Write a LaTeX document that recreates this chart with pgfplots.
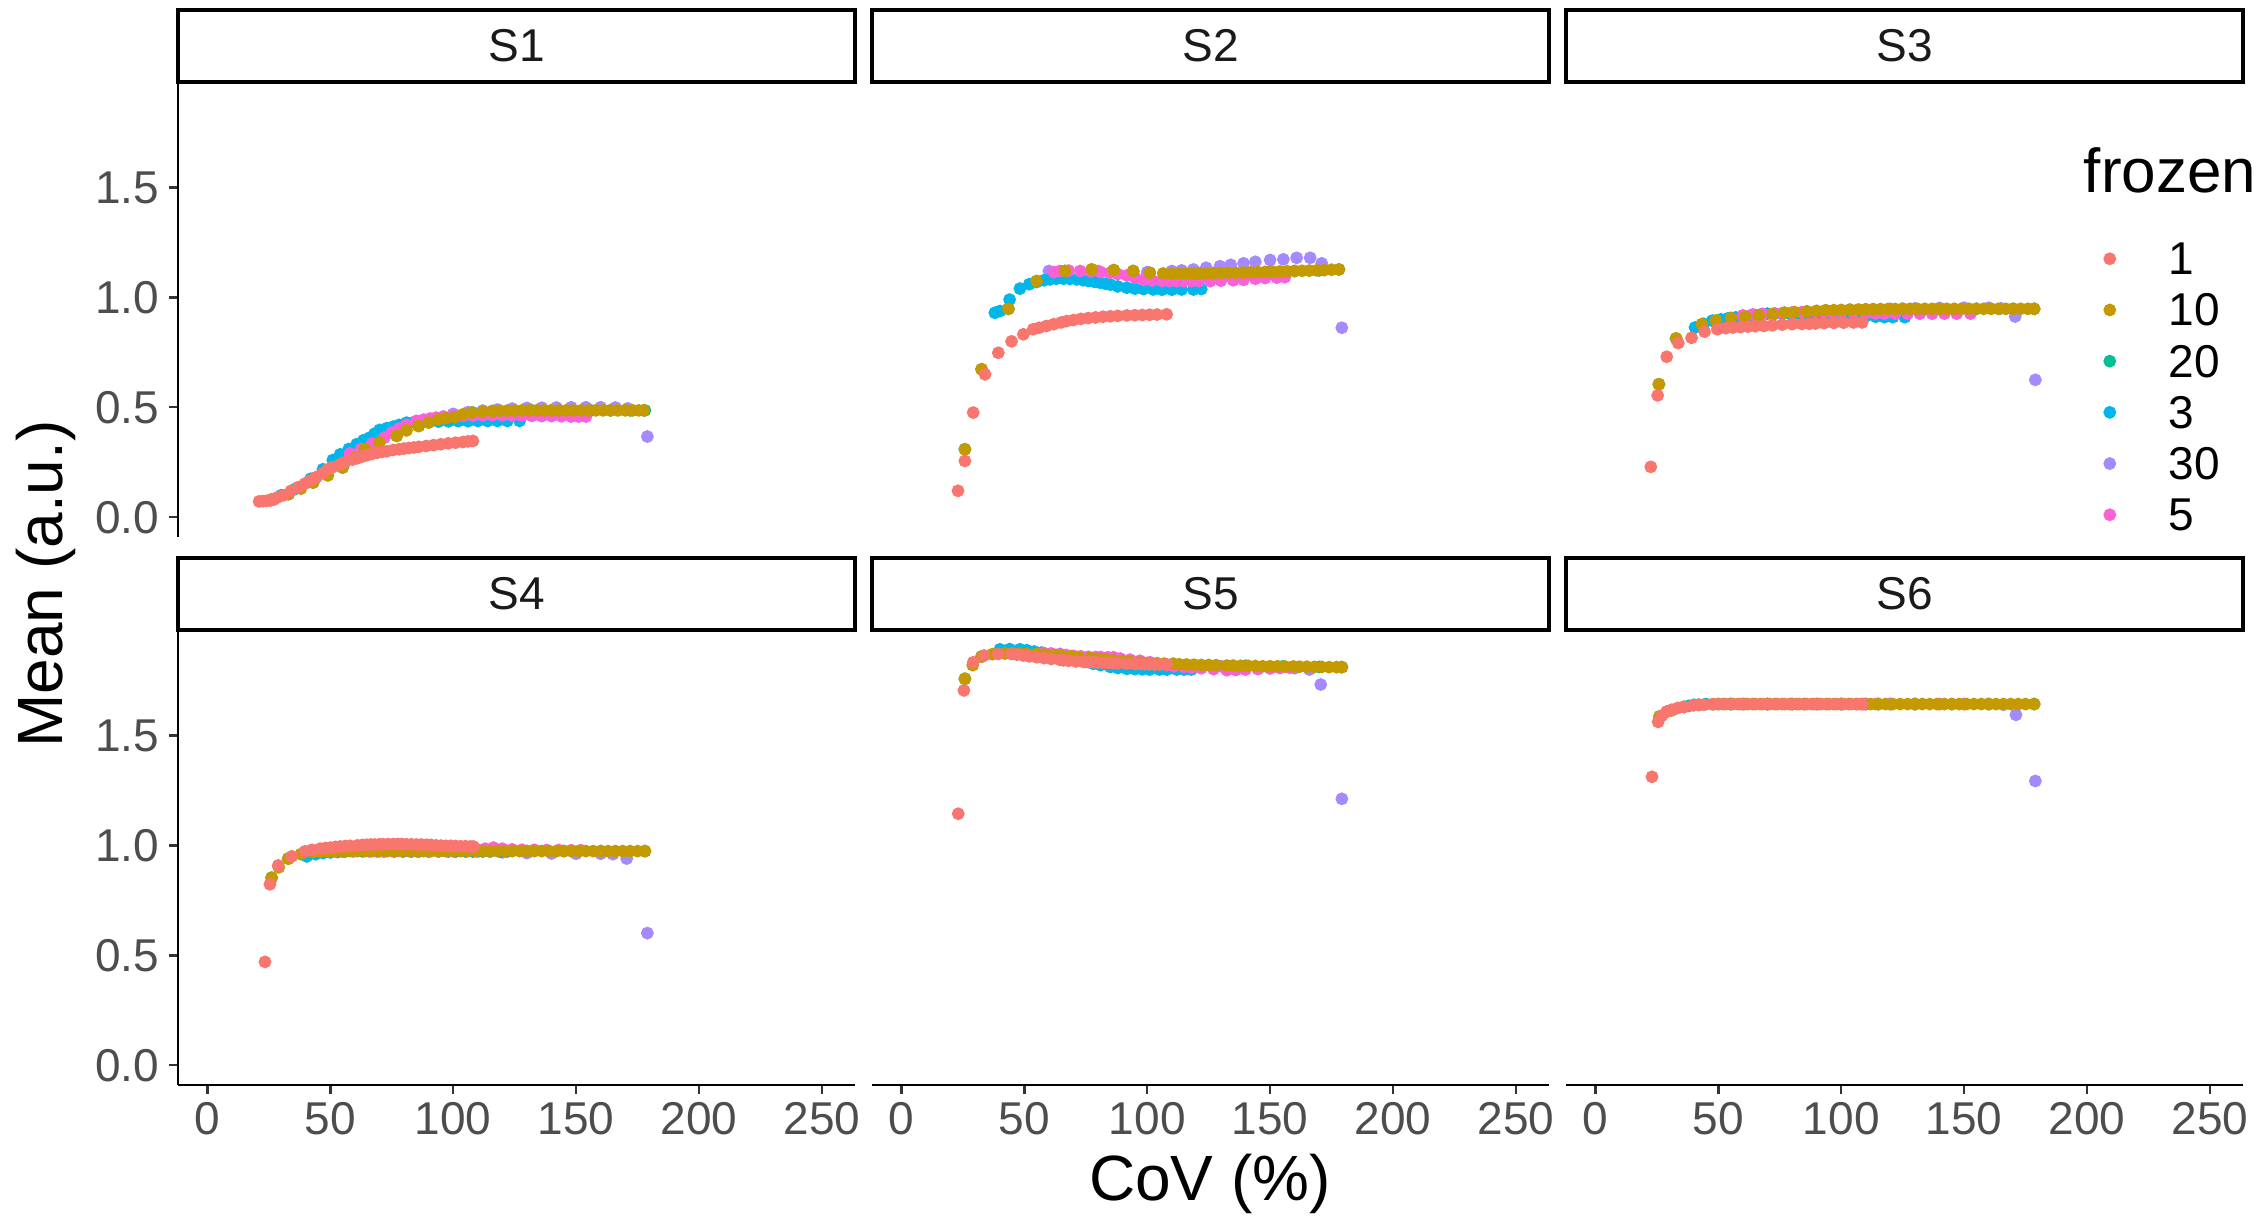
\documentclass[border=0pt]{standalone}
\usepackage{fontspec}
\setmainfont{Liberation Sans}
\usepackage{pgfplots}
\pgfplotsset{compat=1.18}
\definecolor{c1}{HTML}{F8766D}
\definecolor{c10}{HTML}{C49A00}
\definecolor{c20}{HTML}{00C094}
\definecolor{c3}{HTML}{00B6EB}
\definecolor{c30}{HTML}{A58AFF}
\definecolor{c5}{HTML}{FB61D7}
\definecolor{tickgray}{HTML}{4D4D4D}
\definecolor{striptext}{HTML}{1A1A1A}
\pgfplotsset{
  panel/.style={
    scale only axis, width=169.25pt, height=113.75pt, anchor=north west,
    xmin=-12, xmax=263.5, ymin=-0.09, ymax=1.98,
    axis x line=bottom, axis y line=left,
    axis line style={-, line width=0.6pt, black},
    tick style={line width=0.6pt, color=black!80},
    tick align=outside, major tick length=2.2pt,
    xtick={0,50,100,150,200,250}, xticklabels={0,50,100,150,200,250},
    ytick={0,0.5,1,1.5}, yticklabels={0.0,0.5,1.0,1.5},
    ticklabel style={font=\fontsize{11.5}{12}\selectfont, color=tickgray},
    yticklabel style={inner xsep=2.3pt},
    xticklabel style={inner ysep=2pt},
    every axis plot/.append style={only marks, mark=*, mark size=1.4pt},
  },
  toprow/.style={x axis line style={draw=none}, xtick=\empty},
  inner/.style={y axis line style={draw=none}, ytick=\empty},
}
\begin{document}
\begin{tikzpicture}
\useasboundingbox (0,0) rectangle (566pt,-304pt);
% ---------------- S1 ----------------
\begin{axis}[panel, toprow, at={(44.5pt,-20.5pt)}]
\addplot[color=c20] coordinates {(26,0.08)(33,0.105)(43,0.158)(55,0.226)(64,0.31)(77,0.37)(86,0.415)(94,0.445)(101,0.455)(108,0.476)(116,0.483)(124,0.485)(132,0.486)(140,0.486)(148,0.486)(156,0.486)(164,0.486)(172,0.486)(178,0.486)};
\addplot[color=c30] coordinates {(100,0.47)(106,0.478)(112,0.485)(118,0.49)(124,0.494)(130,0.497)(136,0.498)(142,0.499)(148,0.5)(154,0.5)(160,0.5)(166,0.499)(171,0.495)(179,0.367)};
\addplot[color=c3] coordinates {(30,0.1)(36,0.13)(42,0.175)(47,0.218)(51,0.26)(54,0.286)(57.5,0.31)(60.7,0.332)(63.5,0.35)(66,0.362)(68,0.38)(70,0.397)(73,0.405)(75.6,0.412)(78,0.42)(81,0.43)(84,0.432)(87,0.433)(90,0.434)(94,0.435)(98,0.436)(102,0.437)(106,0.437)(110,0.438)(114,0.438)(118,0.438)(122,0.438)(127,0.438)};
\addplot[color=c5] coordinates {(58,0.29)(62.5,0.31)(67,0.335)(72,0.362)(75,0.385)(78,0.403)(81,0.42)(85,0.438)(88,0.444)(90.6,0.449)(93,0.453)(96,0.458)(100,0.46)(104,0.461)(108,0.462)(112,0.463)(116,0.464)(120,0.464)(124,0.463)(128,0.462)(132,0.461)(136,0.46)(140,0.46)(144,0.459)(148,0.458)(151,0.458)(154,0.458)};
\addplot[color=c10] coordinates {(26,0.08)(33,0.105)(38,0.13)(43,0.158)(49,0.19)(55,0.226)(60,0.27)(64,0.31)(70,0.34)(77,0.37)(81,0.395)(85.8,0.415)(90,0.43)(94,0.445)(97,0.45)(100.7,0.455)(104,0.468)(107.5,0.476)(112,0.48)(116,0.483)(119,0.484)(122,0.485)(125,0.485)(128,0.486)(131,0.486)(134,0.486)(137,0.486)(140,0.486)(143,0.486)(146,0.486)(149,0.486)(152,0.486)(155,0.486)(158,0.486)(161,0.486)(164,0.486)(167,0.486)(170,0.486)(173,0.486)(175.5,0.486)(177.5,0.486)};
\addplot[color=c1] coordinates {(21,0.072)(22.5,0.073)(24,0.074)(25.5,0.076)(27,0.08)(28.5,0.09)(31,0.1)(34,0.12)(37,0.137)(39.7,0.153)(42,0.168)(44.4,0.183)(47,0.2)(49,0.218)(51,0.228)(53.9,0.241)(56,0.25)(59,0.262)(61,0.268)(63,0.276)(65,0.282)(67,0.288)(69,0.293)(71,0.297)(73,0.3)(75.6,0.306)(78,0.309)(80,0.312)(82,0.315)(84,0.317)(86,0.32)(89,0.324)(92,0.328)(95,0.332)(98,0.336)(101,0.339)(104,0.342)(106,0.345)(108,0.347)};
\end{axis}
% ---------------- S2 ----------------
\begin{axis}[panel, toprow, inner, at={(218pt,-20.5pt)}]
\addplot[color=c20] coordinates {(25.8,0.309)(32.6,0.673)(43.5,0.948)(55,1.074)(66.5,1.12)(77.4,1.127)(86.4,1.124)(94.3,1.12)(101,1.112)(110,1.108)(120,1.108)(130,1.111)(140,1.113)(150,1.117)(160,1.12)(170,1.123)(178,1.127)};
\addplot[color=c30] coordinates {(60,1.12)(80,1.12)(100,1.115)(110,1.12)(114,1.123)(118.8,1.127)(124,1.135)(129.6,1.142)(134,1.148)(139.2,1.155)(144,1.162)(150,1.17)(155.4,1.173)(160.8,1.18)(166.3,1.18)(171,1.155)(179.2,0.862)};
\addplot[color=c3] coordinates {(38,0.93)(40.1,0.938)(44,0.99)(48.2,1.04)(52,1.06)(55,1.07)(58,1.078)(60.4,1.082)(63,1.085)(66,1.085)(68.5,1.084)(71.3,1.082)(74,1.078)(76,1.075)(78.5,1.071)(80.8,1.067)(83,1.062)(85,1.058)(88,1.05)(91.7,1.044)(95,1.04)(98.5,1.038)(102.5,1.036)(106,1.035)(110,1.035)(114,1.036)(118.8,1.036)(122,1.038)};
\addplot[color=c5] coordinates {(62,1.115)(64.5,1.12)(68,1.122)(72.7,1.12)(77,1.118)(81,1.115)(84.9,1.112)(88,1.106)(91.7,1.1)(95,1.09)(98.5,1.08)(102,1.077)(106,1.075)(109,1.074)(112,1.074)(115,1.074)(118,1.074)(121,1.074)(125.6,1.074)(130,1.076)(135,1.078)(139.2,1.08)(144,1.085)(148,1.088)(152.7,1.09)(156,1.092)};
\addplot[color=c10] coordinates {(25.8,0.309)(32.6,0.673)(43.5,0.948)(55,1.074)(66.5,1.12)(77.4,1.127)(86.4,1.124)(94.3,1.12)(101,1.112)(106.5,1.109)(110,1.108)(113,1.108)(116,1.108)(118.8,1.108)(121,1.109)(124,1.109)(127,1.11)(130,1.111)(133,1.112)(136,1.112)(139,1.113)(142,1.114)(145,1.115)(148,1.116)(151,1.117)(154,1.118)(157,1.119)(160,1.12)(163,1.121)(166,1.122)(169,1.123)(172,1.124)(175,1.126)(178,1.127)};
\addplot[color=c1] coordinates {(23,0.12)(25.8,0.256)(29.2,0.476)(34,0.65)(39.4,0.748)(44.8,0.8)(49.6,0.832)(53.6,0.855)(56,0.862)(59,0.87)(62,0.878)(65,0.886)(67.2,0.892)(70,0.897)(73,0.902)(76,0.906)(79,0.909)(82,0.912)(85,0.914)(88,0.916)(91.7,0.918)(95,0.919)(98,0.92)(101,0.921)(104,0.922)(107.9,0.923)};
\end{axis}
% ---------------- S3 ----------------
\begin{axis}[panel, toprow, inner, at={(391.5pt,-20.5pt)},
  legend style={at={(axis description cs:0.7725,0.6484)}, anchor=north west, draw=none, fill=none, inner sep=0pt,
    font=\fontsize{11.5}{12}\selectfont, row sep=4.8pt, column sep=9.75pt,
    nodes={inner sep=0pt, text height=8pt, text depth=0pt}, cells={anchor=west}},
  legend cell align=left,
  legend image code/.code={\draw[#1] plot coordinates {(0pt,0pt)}; \path[draw=none, fill=none] (-5pt,-4pt) rectangle (5pt,4pt);}]
\addplot[color=c20, forget plot] coordinates {(25.8,0.605)(32.8,0.813)(43.3,0.878)(55.2,0.906)(66.4,0.917)(76.9,0.93)(86,0.936)(93.7,0.941)(103.5,0.944)(113,0.946)(125,0.948)(140,0.948)(155,0.948)(170,0.948)(178.5,0.948)};
\addplot[color=c30, forget plot] coordinates {(110,0.945)(120,0.948)(130,0.95)(140,0.952)(150,0.953)(160,0.953)(165,0.95)(170.8,0.913)(179,0.625)};
\addplot[color=c3, forget plot] coordinates {(40.5,0.863)(44,0.88)(47.5,0.894)(51,0.9)(54,0.905)(57,0.909)(60.1,0.913)(63,0.917)(65,0.92)(67.5,0.923)(69.9,0.926)(73,0.926)(76,0.926)(79,0.926)(82.5,0.926)(86,0.925)(90,0.925)(94,0.923)(98,0.921)(102,0.919)(106,0.917)(110,0.915)(114,0.912)(117.6,0.91)(121,0.91)(125.9,0.91)};
\addplot[color=c5, forget plot] coordinates {(60,0.918)(64,0.922)(68,0.925)(72.7,0.926)(76,0.928)(80,0.931)(84,0.933)(89.5,0.935)(93,0.934)(96,0.933)(100,0.932)(105,0.93)(110,0.928)(114,0.927)(117.6,0.926)(122,0.926)(127,0.926)(132,0.926)(137,0.926)(142,0.926)(147,0.926)(152.6,0.926)};
\addplot[color=c10, forget plot] coordinates {(25.8,0.605)(32.8,0.813)(43.3,0.878)(49,0.895)(55.2,0.906)(61,0.912)(66.4,0.917)(72,0.924)(76.9,0.93)(81,0.933)(86,0.936)(90,0.939)(93.7,0.941)(97,0.942)(100,0.943)(103.5,0.944)(107,0.945)(110,0.946)(113,0.946)(116,0.947)(119,0.947)(122,0.947)(125,0.948)(128,0.948)(131,0.948)(134,0.948)(137,0.948)(140,0.948)(143,0.948)(146,0.948)(149,0.948)(152,0.948)(155,0.948)(158,0.948)(161,0.948)(164,0.948)(167,0.948)(170,0.948)(173,0.948)(176,0.948)(178.5,0.948)};
\addplot[color=c1, forget plot] coordinates {(22.5,0.229)(25.3,0.554)(29,0.73)(33.7,0.792)(39.1,0.816)(44.4,0.844)(49.6,0.855)(53,0.86)(55.9,0.863)(59,0.865)(62,0.867)(65,0.869)(68.5,0.87)(72,0.873)(76,0.876)(80,0.878)(84,0.879)(87,0.88)(89.5,0.881)(93,0.883)(97,0.884)(101,0.885)(105,0.886)(108.5,0.886)};
\addlegendimage{only marks, mark=*, mark size=1.4pt, color=c1}
\addlegendentry{1}
\addlegendimage{only marks, mark=*, mark size=1.4pt, color=c10}
\addlegendentry{10}
\addlegendimage{only marks, mark=*, mark size=1.4pt, color=c20}
\addlegendentry{20}
\addlegendimage{only marks, mark=*, mark size=1.4pt, color=c3}
\addlegendentry{3}
\addlegendimage{only marks, mark=*, mark size=1.4pt, color=c30}
\addlegendentry{30}
\addlegendimage{only marks, mark=*, mark size=1.4pt, color=c5}
\addlegendentry{5}
\end{axis}
% ---------------- S4 ----------------
\begin{axis}[panel, at={(44.5pt,-157.5pt)}]
\addplot[color=c20] coordinates {(26.1,0.853)(32.9,0.94)(43.1,0.97)(55,0.973)(70,0.974)(85,0.974)(100,0.974)(115,0.974)(130,0.974)(145,0.974)(160,0.974)(178,0.974)};
\addplot[color=c30] coordinates {(110,0.972)(120,0.968)(130,0.965)(140,0.963)(150,0.962)(160,0.962)(165,0.96)(170.6,0.94)(179,0.601)};
\addplot[color=c3] coordinates {(40.4,0.95)(44,0.96)(47.1,0.965)(50,0.968)(53,0.97)(56,0.972)(59.3,0.973)(63,0.973)(66,0.973)(69,0.973)(72,0.973)(76,0.972)(79.7,0.972)(83,0.972)(86,0.972)(90,0.972)(94,0.972)(98,0.972)(101,0.972)(105,0.972)(108,0.972)(112,0.972)(115,0.972)(119,0.972)(122,0.972)};
\addplot[color=c5] coordinates {(60,0.975)(65,0.976)(68,0.975)(71.5,0.973)(75,0.975)(78,0.976)(81,0.977)(84,0.977)(87,0.977)(90,0.977)(93,0.977)(96,0.977)(99,0.977)(102.8,0.977)(106,0.978)(110,0.98)(113,0.985)(116.4,0.99)(120,0.985)(124,0.982)(128,0.98)(133,0.98)(138,0.979)(143,0.979)(148,0.978)(152,0.978)};
\addplot[color=c10] coordinates {(26.1,0.853)(29,0.9)(32.9,0.94)(38,0.96)(43.1,0.97)(46,0.971)(49,0.972)(52,0.973)(55,0.973)(58,0.974)(61,0.974)(64,0.974)(67,0.974)(70,0.974)(73,0.974)(76,0.974)(79,0.974)(82,0.974)(85,0.974)(88,0.974)(91,0.974)(94,0.974)(97,0.974)(100,0.974)(103,0.974)(106,0.974)(109,0.974)(112,0.974)(115,0.974)(118,0.974)(121,0.974)(124,0.974)(127,0.974)(130,0.974)(133,0.974)(136,0.974)(139,0.974)(142,0.974)(145,0.974)(148,0.974)(151,0.974)(154,0.974)(157,0.974)(160,0.974)(163,0.974)(166,0.974)(169,0.974)(172,0.974)(175,0.974)(178,0.974)};
\addplot[color=c1] coordinates {(23.4,0.47)(25.4,0.823)(28.8,0.909)(34.3,0.95)(39.7,0.973)(42.5,0.98)(45.8,0.985)(48,0.988)(50,0.99)(52,0.993)(54,0.995)(56,0.997)(58,0.998)(61,1)(63,1.002)(64.8,1.003)(66.5,1.004)(68,1.004)(70,1.005)(71.5,1.005)(73.5,1.006)(75.6,1.006)(77.5,1.006)(79,1.006)(81,1.005)(83,1.005)(85,1.004)(87,1.004)(89.2,1.003)(91,1.002)(93,1)(95,0.999)(97,0.998)(99,0.998)(101,0.997)(103,0.996)(105,0.996)(107,0.995)(108.2,0.995)};
\end{axis}
% ---------------- S5 ----------------
\begin{axis}[panel, inner, at={(218pt,-157.5pt)}]
\addplot[color=c20] coordinates {(25.8,1.758)(32.6,1.859)(42.1,1.874)(55,1.871)(69,1.86)(83,1.845)(97,1.832)(110.6,1.826)(125,1.82)(140,1.817)(155,1.814)(170,1.812)(179.2,1.811)};
\addplot[color=c30] coordinates {(110,1.82)(120,1.818)(130,1.815)(140,1.812)(150,1.81)(160,1.806)(166,1.8)(170.6,1.732)(179.2,1.212)};
\addplot[color=c3] coordinates {(40.1,1.892)(44,1.893)(48.2,1.892)(51,1.888)(54,1.882)(57,1.877)(60.4,1.871)(63,1.866)(66,1.86)(69,1.853)(72,1.845)(75,1.835)(78.1,1.826)(81,1.82)(85,1.812)(88,1.807)(91.7,1.803)(95,1.802)(98,1.801)(101,1.8)(105,1.8)(108,1.8)(112,1.8)(115,1.8)(118,1.8)};
\addplot[color=c5] coordinates {(58,1.875)(61,1.873)(64.5,1.871)(67,1.866)(70,1.862)(73,1.86)(76,1.858)(79,1.857)(81,1.857)(84,1.856)(86.3,1.856)(89,1.85)(93,1.845)(97,1.84)(101.2,1.833)(104,1.826)(108,1.82)(111,1.815)(115,1.812)(118,1.809)(122,1.806)(127,1.802)(132.4,1.797)(136,1.798)(140,1.8)(145,1.802)(150,1.805)(154,1.807)(158,1.808)};
\addplot[color=c10] coordinates {(25.8,1.758)(29,1.82)(32.6,1.859)(37,1.87)(42.1,1.874)(45,1.874)(48,1.873)(51,1.872)(55,1.871)(58,1.868)(62,1.865)(65,1.863)(69,1.86)(72,1.857)(76.7,1.853)(80,1.849)(83,1.845)(86,1.842)(90,1.838)(93,1.835)(97,1.832)(100,1.83)(104,1.829)(107,1.827)(110.6,1.826)(113,1.824)(116,1.823)(119,1.822)(122,1.821)(125,1.82)(128,1.82)(132.4,1.818)(135,1.818)(138,1.817)(141,1.817)(144,1.816)(147,1.815)(150,1.815)(153,1.815)(156,1.814)(159.5,1.814)(162,1.813)(165,1.813)(168,1.812)(171,1.812)(174,1.811)(177,1.811)(179.2,1.811)};
\addplot[color=c1] coordinates {(23.1,1.144)(25.4,1.705)(29.2,1.833)(33.6,1.864)(39.4,1.871)(44.8,1.871)(47,1.868)(49.6,1.864)(52,1.86)(55,1.856)(58,1.852)(61,1.848)(64.5,1.844)(66,1.842)(68,1.84)(71,1.837)(74,1.835)(76,1.834)(78.1,1.833)(80,1.832)(82,1.831)(84,1.83)(86,1.829)(88,1.828)(91.7,1.826)(95,1.825)(97,1.825)(99,1.824)(101,1.824)(103,1.823)(105,1.823)(107.9,1.823)};
\end{axis}
% ---------------- S6 ----------------
\begin{axis}[panel, inner, at={(391.5pt,-157.5pt)}]
\addplot[color=c20] coordinates {(26.1,1.587)(31,1.615)(36,1.63)(42,1.64)(55,1.643)(70,1.643)(85,1.643)(100,1.643)(115,1.643)(130,1.643)(145,1.643)(160,1.643)(178.5,1.643)};
\addplot[color=c30] coordinates {(110,1.643)(120,1.643)(130,1.643)(140,1.643)(150,1.643)(160,1.643)(166,1.64)(171.1,1.594)(179,1.293)};
\addplot[color=c3] coordinates {(38,1.635)(40,1.64)(45,1.643)(50,1.643)(55,1.643)(60,1.643)(70,1.643)(80,1.643)(90,1.643)(100,1.643)(110,1.643)(115,1.643)(120,1.643)};
\addplot[color=c5] coordinates {(60,1.643)(70,1.643)(80,1.643)(90,1.643)(100,1.643)(108,1.643)(110,1.643)(114,1.643)(120,1.643)(130,1.643)(140,1.643)(150,1.643)};
\addplot[color=c10] coordinates {(26.1,1.587)(29,1.608)(31,1.615)(36,1.63)(42,1.64)(48,1.642)(52,1.643)(55,1.643)(58,1.643)(61,1.643)(64,1.643)(67,1.643)(70,1.643)(73,1.643)(76,1.643)(79,1.643)(82,1.643)(85,1.643)(88,1.643)(91,1.643)(94,1.643)(97,1.643)(100,1.643)(103,1.643)(106,1.643)(109,1.643)(112,1.643)(115,1.643)(118,1.643)(121,1.643)(124,1.643)(127,1.643)(130,1.643)(133,1.643)(136,1.643)(139,1.643)(142,1.643)(145,1.643)(148,1.643)(151,1.643)(154,1.643)(157,1.643)(160,1.643)(163,1.643)(166,1.643)(169,1.643)(172,1.643)(175,1.643)(178.5,1.643)};
\addplot[color=c1] coordinates {(23,1.312)(25.5,1.562)(27,1.59)(29,1.609)(31,1.617)(33.5,1.625)(36,1.63)(39.8,1.637)(42,1.639)(44,1.64)(47.5,1.642)(50,1.643)(53,1.643)(56,1.643)(59,1.643)(62,1.643)(65,1.643)(68,1.643)(71,1.643)(74,1.643)(77,1.643)(80,1.643)(83,1.643)(86,1.643)(89,1.643)(92,1.643)(95,1.643)(98,1.643)(101,1.643)(104,1.643)(106.5,1.643)(108.5,1.643)};
\end{axis}
% ---------------- strips ----------------
\foreach \x/\lab in {44.5/S1, 218/S2, 391.5/S3} {
  \draw[line width=1pt, fill=white] (\x pt,-2.5pt) rectangle ++(169.25pt,-18pt);
  \node[font=\fontsize{11.5}{12}\selectfont, text=striptext] at (\x pt+84.625pt,-11.5pt) {\lab};
}
\foreach \x/\lab in {44.5/S4, 218/S5, 391.5/S6} {
  \draw[line width=1pt, fill=white] (\x pt,-139.5pt) rectangle ++(169.25pt,-18pt);
  \node[font=\fontsize{11.5}{12}\selectfont, text=striptext] at (\x pt+84.625pt,-148.5pt) {\lab};
}
% ---------------- titles ----------------
\node[rotate=90, font=\fontsize{16}{18}\selectfont] at (11.5pt,-146pt) {Mean (a.u.)};
\node[font=\fontsize{16}{18}\selectfont] at (302.5pt,-296pt) {CoV (\%)};
\node[anchor=base west, inner sep=0pt, font=\fontsize{15.5}{17}\selectfont] at (520.75pt,-48.25pt) {frozen};
\end{tikzpicture}
\end{document}
